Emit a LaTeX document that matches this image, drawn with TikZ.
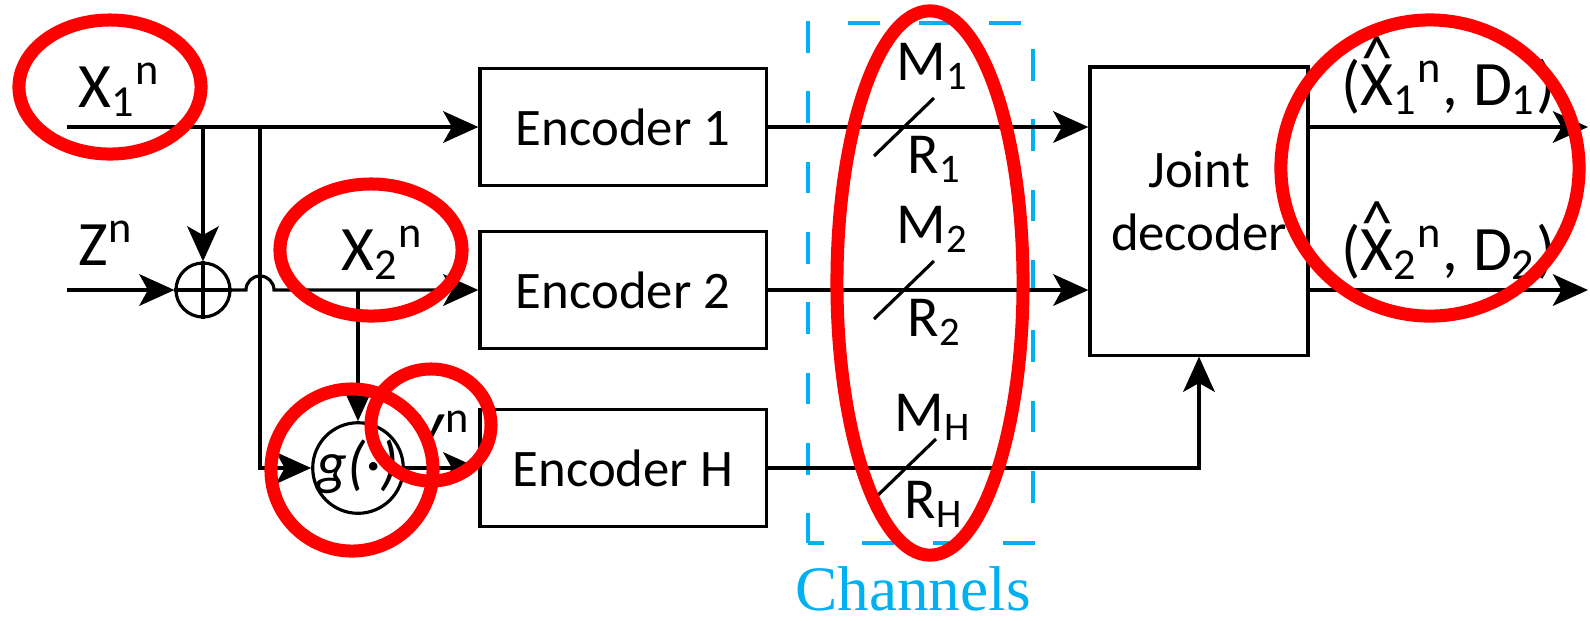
\documentclass[tikz,border=0pt]{standalone}
\usepackage{fontspec}
\setmainfont{Carlito}
\newfontfamily\chanfont{Liberation Serif}
\usepackage{xcolor}
\usetikzlibrary{arrows.meta,positioning}
\definecolor{chancyan}{RGB}{0,176,240}
\newcommand{\hatX}{\ooalign{X\cr\hidewidth\raisebox{0.4em}{\textasciicircum}\hidewidth\cr}}

\begin{document}
\begin{tikzpicture}[
	x=0.01cm, y=-0.01cm,
	line width=0.9pt,
	box/.style={draw,minimum width=2.86cm,minimum height=1.17cm,inner sep=0pt,font=\fontsize{15}{18}\selectfont},
	sig/.style={inner sep=0pt,anchor=base west,font=\fontsize{18}{21}\selectfont},
	rate/.style={inner sep=0pt,anchor=base west,font=\fontsize{16.5}{20}\selectfont},
	arrow/.style={-{Stealth[length=10pt,width=9pt,inset=2.5pt]}},
	chanbox/.style={draw=chancyan,line width=1.1pt,dash pattern=on 9pt off 11pt,dash phase=4.5pt,minimum width=2.25cm,minimum height=5.2cm},
	ring/.style={draw=red,line width=3.7pt}
	]
	\useasboundingbox (0,0) rectangle (1590,620);
	% blocks
	\node[box] (enc1) at (623,127) {Encoder 1};
	\node[box] (enc2) at (623,290) {Encoder 2};
	\node[box] (encH) at (623,468) {Encoder H};
	\node[box,minimum width=2.18cm,minimum height=2.88cm] (dec) at (1199,211)
		{\raisebox{-2.3pt}[0pt][0pt]{\begin{tabular}{@{}c@{}}Joint\\decoder\end{tabular}}};
	\node[circle,draw,minimum size=0.54cm,inner sep=0pt] (add) at (203,290) {};
	\node[circle,draw,minimum size=0.9cm,inner sep=0pt,text height=10pt,text depth=1pt,font=\fontsize{17}{20}\selectfont\itshape] (g) at (358,468) {g(·)};
	\draw (add.north) -- (add.south) (add.west) -- (add.east);
	% labels
	\node[sig] (x1) at (77,107) {X\textsubscript{1}\textsuperscript{n}};
	\node[sig] (z) at (77,265) {Z\textsuperscript{n}};
	\node[sig] (x2) at (340,270) {X\textsubscript{2}\textsuperscript{n}};
	\node[sig] (y) at (413,455) {Y\textsuperscript{n}};
	\node[sig] (out1) at (1340,105) {(\hatX\textsubscript{1}\textsuperscript{n}, D\textsubscript{1})};
	\node[sig] (out2) at (1340,270) {(\hatX\textsubscript{2}\textsuperscript{n}, D\textsubscript{2})};
	% channels
	\node[chanbox] (chan) at (920.5,283) {};
	\node[anchor=base,inner sep=0pt,font=\chanfont\fontsize{18}{22}\selectfont,text=chancyan] (chanlabel) at (913,610) {Channels};
	\coordinate (s1) at (904,127);
	\coordinate (s2) at (904,290);
	\coordinate (sH) at (906,468);
	\draw ([shift={(-30,29)}]s1) -- ([shift={(30,-29)}]s1);
	\draw ([shift={(-30,29)}]s2) -- ([shift={(30,-29)}]s2);
	\draw ([shift={(-30,29)}]sH) -- ([shift={(30,-29)}]sH);
	\node[rate] (m1) at (895,80) {M\textsubscript{1}};
	\node[rate] (r1) at (906,173) {R\textsubscript{1}};
	\node[rate] (m2) at (895,243) {M\textsubscript{2}};
	\node[rate] (r2) at (906,336) {R\textsubscript{2}};
	\node[rate] (mH) at (893,431) {M\textsubscript{H}};
	\node[rate] (rH) at (903,518) {R\textsubscript{H}};
	% connectors
	\coordinate (in1) at (67,127);
	\coordinate (inz) at (67,290);
	\coordinate (br) at (260,127);
	\coordinate (o1) at (1588,127);
	\coordinate (o2) at (1588,290);
	\draw[arrow] (in1) -- (enc1.west);
	\draw[arrow] (add.north |- in1) -- (add.north);
	\draw[arrow] (inz) -- (add.west);
	\draw[arrow] (br) -- (br |- g) -- (g.west);
	\draw[arrow] (add.east) -- ([xshift=-0.14cm]br |- add) arc[start angle=180,end angle=0,radius=0.14cm] -- (enc2.west);
	\draw[arrow] (g.north |- enc2.west) -- (g.north);
	\draw[arrow] (g.east) -- (encH.west);
	\draw[arrow] (enc1.east) -- (dec.west |- enc1);
	\draw[arrow] (enc2.east) -- (dec.west |- enc2);
	\draw[arrow] (encH.east) -- (encH.east -| dec.south) -- (dec.south);
	\draw[arrow] (dec.east |- o1) -- (o1);
	\draw[arrow] (dec.east |- o2) -- (o2);
	% red marks
	\draw[ring] (110,87) ellipse [x radius=0.91cm,y radius=0.67cm];
	\draw[ring] (371,250) ellipse [x radius=0.91cm,y radius=0.66cm];
	\draw[ring] (352,470) ellipse [x radius=0.81cm,y radius=0.81cm];
	\draw[ring] (431,425) ellipse [x radius=0.6cm,y radius=0.56cm];
	\draw[ring] (930,283) ellipse [x radius=0.93cm,y radius=2.72cm];
	\draw[ring] (1430,168) ellipse [x radius=1.49cm,y radius=1.48cm];
\end{tikzpicture}
\end{document}
